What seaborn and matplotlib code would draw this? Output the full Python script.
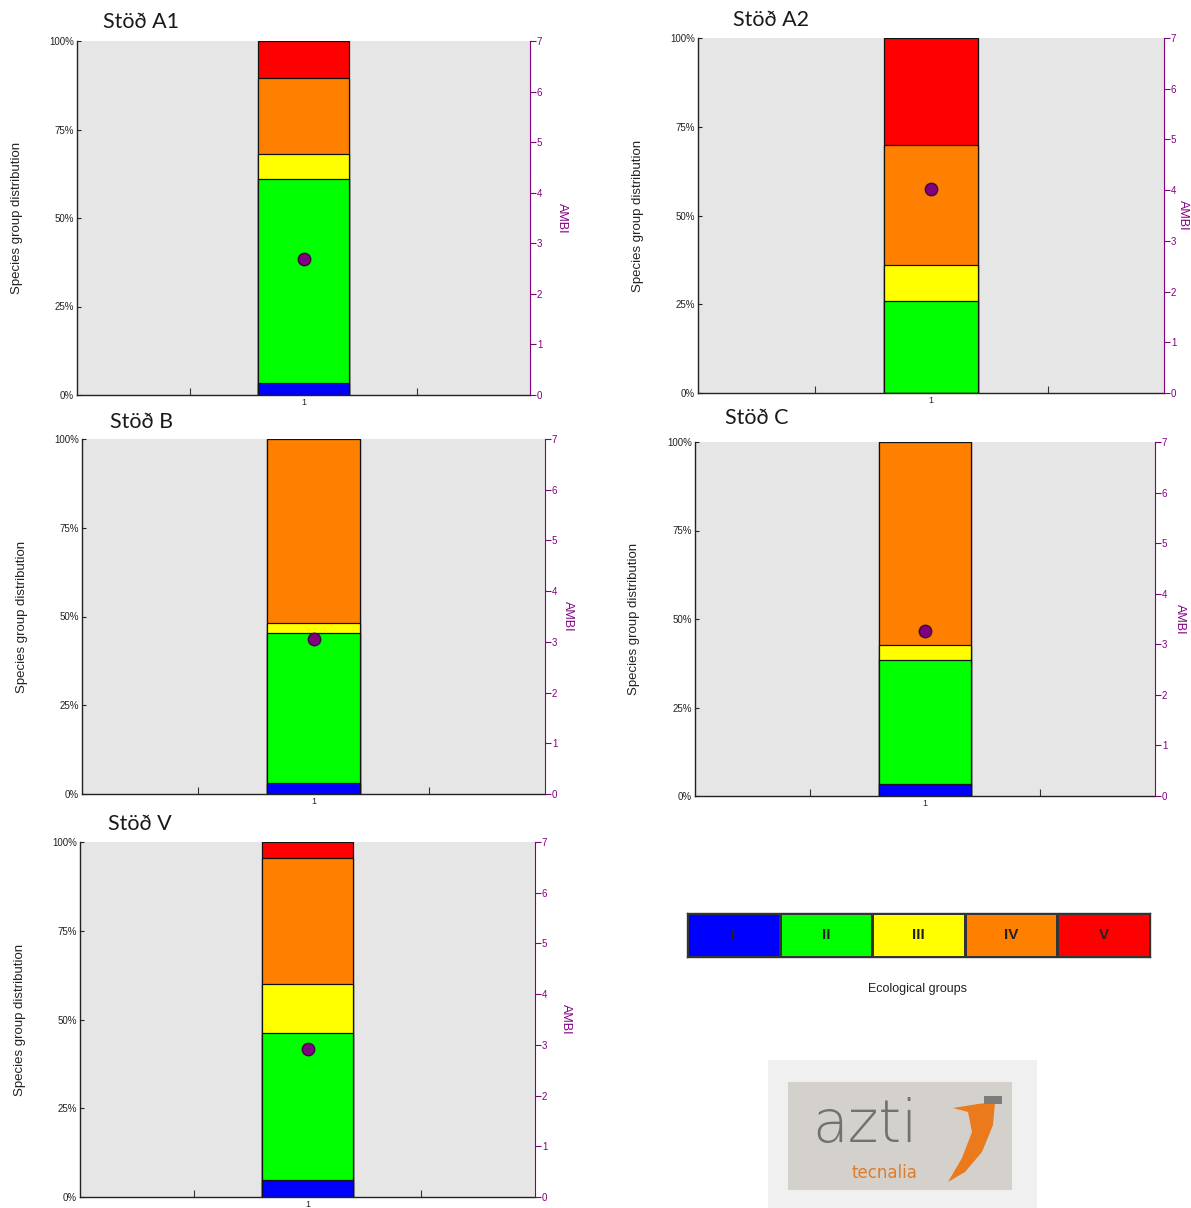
import matplotlib
matplotlib.use("Agg")
import matplotlib.pyplot as plt
from matplotlib.colors import ListedColormap
from matplotlib.patches import Rectangle, Polygon
import numpy as np
import seaborn as sns

#%% Data
groups = ['I', 'II', 'III', 'IV', 'V']
group_colors = ['#0000ff', '#00ff00', '#ffff00', '#ff8000', '#ff0000']

stations = ['Stöð A1', 'Stöð A2', 'Stöð B', 'Stöð C', 'Stöð V']
share_a1 = [3.5, 57.5, 7.0, 21.5, 10.5]
share_a2 = [0.0, 26.0, 10.0, 34.0, 30.0]
share_b = [3.1, 42.3, 2.8, 51.8, 0.0]
share_c = [3.5, 34.8, 4.3, 57.4, 0.0]
share_v = [4.7, 41.4, 13.9, 35.5, 4.5]
shares = [share_a1, share_a2, share_b, share_c, share_v]
ambi = [2.69, 4.03, 3.06, 3.26, 2.92]

pct_ticks = [0, 25, 50, 75, 100]
pct_labels = ['0%', '25%', '50%', '75%', '100%']
ambi_ticks = [0, 1, 2, 3, 4, 5, 6, 7]

#%% Figure setup
W, H = 1191, 1208
sns.set_theme(style="white")
plt.rcParams['font.family'] = ['Liberation Sans', 'DejaVu Sans']
fig = plt.figure(figsize=(W / 100, H / 100), dpi=100)

def fx(x):
    return x / W

def fy(y):
    return 1 - y / H

# axes boxes in pixels: left, top, right, bottom ; title position
boxes = [(77, 41, 530, 395), (698, 38, 1164, 393), (82, 439, 545, 794),
         (695, 442, 1155, 796), (80, 842, 535, 1197)]
title_pos = [(103, 22), (733, 20), (110, 422), (725, 418), (108, 824)]
ylab_off = [60, 60, 60, 61, 60]     # px left of axes, label centre
ambi_off = [32, 19, 23, 25, 31]     # px right of axes, label centre

purple = '#800080'
narrow = ['Liberation Sans Narrow', 'Liberation Sans', 'DejaVu Sans']

for i, st in enumerate(stations):
    l, t, r, b = boxes[i]
    w = r - l
    ax = fig.add_axes([fx(l), fy(b), w / W, (b - t) / H])
    ax.set_facecolor('#e6e6e6')

    # stacked bar: draw cumulative totals, top group first
    cum = np.cumsum(shares[i])
    for k in reversed(range(len(groups))):
        sns.barplot(x=['1'], y=[cum[k]], color=group_colors[k], saturation=1,
                    width=0.4, edgecolor='#111111', linewidth=0.9,
                    errorbar=None, ax=ax)

    ax.set_xlim(-1, 1)
    ax.set_ylim(0, 100)
    ax.set_yticks(pct_ticks)
    ax.set_yticklabels(pct_labels, family=narrow, fontsize=7)
    ax.set_xticks([0])
    ax.set_xticklabels(['1'], fontsize=6.5)
    ax.set_xticks([-0.5, 0.5], minor=True)
    ax.tick_params(axis='x', which='major', length=0, pad=2)
    ax.tick_params(axis='x', which='minor', direction='in', length=5,
                   width=0.8, color='#333333', bottom=True)
    ax.tick_params(axis='y', direction='in', length=3, width=0.8, left=True,
                   pad=2, colors='#222222')
    ax.set_xlabel('')
    ax.set_ylabel('Species group distribution', fontsize=9.5, color='#222222',
                  rotation=90, rotation_mode='default', ha='center', va='center')
    ax.yaxis.set_label_coords(-ylab_off[i] / w, 0.5)
    for s in ['top', 'right']:
        ax.spines[s].set_visible(False)
    for s in ['left', 'bottom']:
        ax.spines[s].set_color('#222222')
        ax.spines[s].set_linewidth(1.0)

    # AMBI on the right axis
    ax2 = ax.twinx()
    sns.scatterplot(x=[0], y=[ambi[i]], s=80, color=purple,
                    edgecolor='#3a0a3a', linewidth=1, ax=ax2, zorder=5)
    ax2.set_xlim(-1, 1)
    ax2.set_ylim(0, 7)
    ax2.set_yticks(ambi_ticks)
    ax2.set_yticklabels([str(v) for v in ambi_ticks], family=narrow,
                        fontsize=7, color=purple)
    ax2.tick_params(axis='y', direction='out', length=4, width=0.8,
                    color=purple, right=True, pad=1)
    ax2.set_ylabel('AMBI', rotation=270, fontsize=9, color=purple,
                   rotation_mode='default', ha='center', va='center')
    ax2.yaxis.set_label_coords(1 + ambi_off[i] / w, 0.5)
    for s in ['top', 'left', 'bottom']:
        ax2.spines[s].set_visible(False)
    ax2.spines['right'].set_color(purple)
    ax2.spines['right'].set_linewidth(0.8)

    tx, ty = title_pos[i]
    fig.text(fx(tx), fy(ty), st, fontsize=15.5, family=['Lato', 'DejaVu Sans'],
             ha='left', va='center', color='#1a1a1a')

#%% Legend of ecological groups
lax = fig.add_axes([fx(687), fy(957), (1150 - 687) / W, (957 - 913) / H])
sns.heatmap(np.array([[0, 1, 2, 3, 4]]), cmap=ListedColormap(group_colors),
            vmin=-0.5, vmax=4.5, annot=np.array([groups]), fmt='', cbar=False,
            linewidths=0.8, linecolor='#333333', xticklabels=False,
            yticklabels=False, ax=lax,
            annot_kws=dict(color='#222222', fontsize=11, fontweight='bold'))
for s in lax.spines.values():
    s.set_visible(True)
    s.set_color('#333333')
    s.set_linewidth(1.0)
fig.text(fx(917), fy(989), 'Ecological groups', fontsize=9, ha='center',
         va='center', color='#222222')

#%% Logo box
fig.patches.append(Rectangle((fx(768), fy(1208)), (1037 - 768) / W,
                             (1208 - 1060) / H, transform=fig.transFigure,
                             facecolor='#f0f0f0', edgecolor='none'))
fig.patches.append(Rectangle((fx(788), fy(1190)), (1012 - 788) / W,
                             (1190 - 1082) / H, transform=fig.transFigure,
                             facecolor='#d4d1cc', edgecolor='none'))
fig.text(fx(865), fy(1126), 'azti', fontsize=42, ha='center', va='center',
         color='#707170', family=['DejaVu Sans'], fontweight='light')
fig.text(fx(884), fy(1173), 'tecnalia', fontsize=12, ha='center', va='center',
         color='#e07b2a', family=['DejaVu Sans'])
crescent = [(953, 1108), (978, 1104), (995, 1102), (993, 1125), (982, 1152),
            (965, 1172), (948, 1182), (962, 1158), (972, 1132), (968, 1112)]
fig.patches.append(Polygon([(fx(x), fy(y)) for x, y in crescent],
                           closed=True, transform=fig.transFigure,
                           facecolor='#ea7a1c', edgecolor='none'))
fig.patches.append(Rectangle((fx(984), fy(1104)), 18 / W, 8 / H,
                             transform=fig.transFigure,
                             facecolor='#7b7c7b', edgecolor='none'))

fig.savefig('out.png', dpi=100, facecolor='white')
